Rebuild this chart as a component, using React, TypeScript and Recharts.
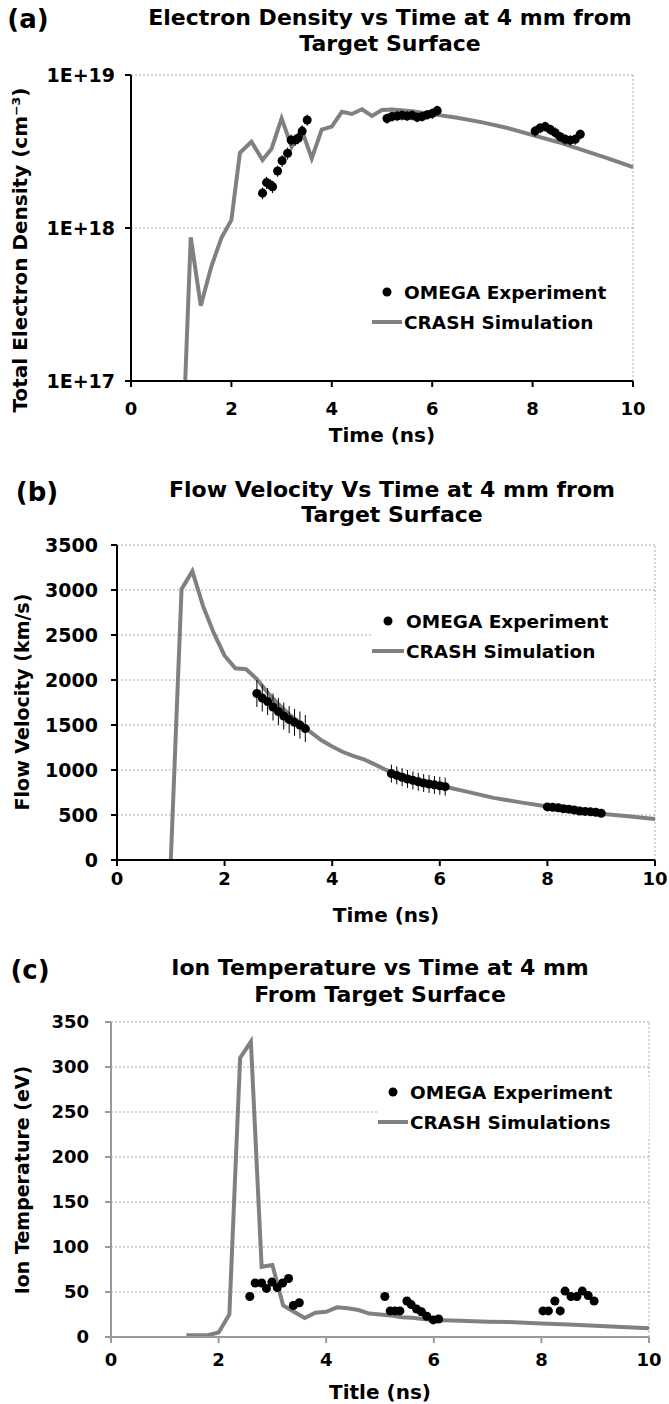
import {
  ComposedChart,
  Line,
  Scatter,
  XAxis,
  YAxis,
  CartesianGrid,
  ErrorBar,
  ReferenceLine,
  Legend,
} from "recharts";

const FONT = "'DejaVu Sans', Verdana, sans-serif";
const timeTicks = [0, 2, 4, 6, 8, 10];

// (a) electron density
const simATime = [1.08, 1.19, 1.39, 1.6, 1.8, 2.0, 2.17, 2.4, 2.62, 2.8, 3.0, 3.2, 3.4, 3.6, 3.8, 4.0, 4.2, 4.4, 4.6, 4.8, 5.0, 5.2, 5.6, 6.0, 6.5, 7.0, 7.5, 8.0, 8.5, 9.0, 9.5, 10];
const simADensity = [1e17, 8.7e17, 3.1e17, 5.6e17, 8.6e17, 1.13e18, 3.1e18, 3.66e18, 2.78e18, 3.3e18, 5.2e18, 3.4e18, 4.4e18, 2.85e18, 4.4e18, 4.6e18, 5.75e18, 5.56e18, 5.97e18, 5.4e18, 5.9e18, 5.95e18, 5.8e18, 5.55e18, 5.25e18, 4.9e18, 4.5e18, 4.05e18, 3.65e18, 3.23e18, 2.85e18, 2.5e18];
const expATime = [2.62, 2.7, 2.78, 2.82, 2.92, 3.01, 3.12, 3.19, 3.27, 3.33, 3.41, 3.51, 5.1, 5.2, 5.3, 5.4, 5.5, 5.6, 5.7, 5.8, 5.9, 6.0, 6.1, 8.05, 8.15, 8.25, 8.35, 8.45, 8.55, 8.65, 8.75, 8.85, 8.95];
const expADensity = [1.69e18, 1.98e18, 1.91e18, 1.86e18, 2.36e18, 2.75e18, 3.08e18, 3.76e18, 3.76e18, 3.86e18, 4.3e18, 5.08e18, 5.2e18, 5.35e18, 5.4e18, 5.45e18, 5.4e18, 5.45e18, 5.3e18, 5.35e18, 5.5e18, 5.6e18, 5.85e18, 4.3e18, 4.5e18, 4.6e18, 4.4e18, 4.2e18, 3.95e18, 3.8e18, 3.75e18, 3.8e18, 4.1e18];
const expADensityErr = [0.15e18, 0.18e18, 0.17e18, 0.17e18, 0.2e18, 0.25e18, 0.28e18, 0.32e18, 0.32e18, 0.33e18, 0.37e18, 0.43e18, 0.4e18, 0.4e18, 0.4e18, 0.4e18, 0.4e18, 0.4e18, 0.4e18, 0.4e18, 0.4e18, 0.45e18, 0.45e18, 0.35e18, 0.35e18, 0.35e18, 0.35e18, 0.35e18, 0.3e18, 0.3e18, 0.3e18, 0.3e18, 0.3e18];
const densityTicks = [1e17, 1e18, 1e19];

// (b) flow velocity
const simBTime = [1.0, 1.2, 1.4, 1.6, 1.8, 2.0, 2.2, 2.4, 2.6, 2.8, 3.0, 3.2, 3.4, 3.6, 3.8, 4.0, 4.2, 4.4, 4.6, 4.8, 5.0, 5.2, 5.4, 5.6, 5.8, 6.0, 6.2, 6.5, 7.0, 7.5, 8.0, 8.5, 9.0, 9.5, 10];
const simBVelocity = [0, 3010, 3210, 2820, 2520, 2270, 2130, 2120, 2010, 1860, 1730, 1620, 1520, 1420, 1330, 1260, 1200, 1155, 1115, 1060, 1000, 960, 925, 890, 855, 825, 800, 760, 690, 640, 595, 555, 515, 485, 455];
const expBTime = [2.6, 2.7, 2.8, 2.9, 3.0, 3.1, 3.2, 3.3, 3.4, 3.5, 5.1, 5.2, 5.3, 5.4, 5.5, 5.6, 5.7, 5.8, 5.9, 6.0, 6.1, 8.0, 8.1, 8.2, 8.3, 8.4, 8.5, 8.6, 8.7, 8.8, 8.9, 9.0];
const expBVelocity = [1850, 1800, 1760, 1700, 1650, 1600, 1560, 1530, 1500, 1460, 960, 940, 920, 900, 885, 870, 855, 845, 835, 825, 815, 590, 585, 580, 570, 565, 555, 545, 540, 535, 530, 520];
const expBVelocityErr = [150, 150, 150, 150, 150, 150, 150, 150, 150, 150, 100, 100, 100, 100, 100, 100, 100, 100, 100, 100, 100, 25, 25, 25, 25, 25, 25, 25, 25, 25, 25, 25];
const velocityTicks = [0, 500, 1000, 1500, 2000, 2500, 3000, 3500];

// (c) ion temperature
const simCTime = [1.4, 1.6, 1.8, 2.0, 2.2, 2.4, 2.6, 2.8, 3.0, 3.2, 3.4, 3.6, 3.8, 4.0, 4.2, 4.4, 4.6, 4.8, 5.0, 5.2, 5.4, 5.6, 5.8, 6.0, 6.5, 7.0, 7.5, 8.0, 8.5, 9.0, 9.5, 10];
const simCTemp = [2, 2, 2, 5, 25, 310, 328, 78, 80, 35, 28, 21, 27, 28, 33, 32, 30, 26, 25, 24, 22, 21.5, 20, 19, 18, 17, 16.5, 15, 14, 12.5, 11, 9.6];
const expCTime = [2.58, 2.68, 2.8, 2.89, 2.99, 3.09, 3.19, 3.3, 3.39, 3.5, 5.09, 5.19, 5.28, 5.37, 5.5, 5.58, 5.68, 5.77, 5.87, 5.99, 6.09, 8.03, 8.13, 8.25, 8.35, 8.44, 8.55, 8.66, 8.76, 8.87, 8.98];
const expCTemp = [45, 60, 60, 54, 61, 55, 60, 65, 35, 38, 45, 29, 29, 29, 40, 36, 31, 28, 23, 19, 20, 29, 29, 40, 29, 51, 45, 45, 51, 46, 40];
const tempTicks = [0, 50, 100, 150, 200, 250, 300, 350];

const pts = (t: number[], v: number[], e?: number[]) =>
  t.map((x, i) => (e ? { t: x, v: v[i], e: e[i] } : { t: x, v: v[i] }));

const makeLegend = (rowH: number, markW: number) => (props: any) => {
  const items = [...(props.payload || [])].sort((a: any) =>
    a.type === "circle" ? -1 : 1
  );
  return (
    <div style={{ background: "#fff", fontFamily: FONT, fontWeight: "bold", fontSize: 18.5, color: "#000" }}>
      {items.map((it: any) => (
        <div key={it.value} style={{ display: "flex", alignItems: "center", height: rowH }}>
          <svg width={markW} height={12} style={{ flex: "none" }}>
            {it.type === "circle" ? (
              <circle cx={markW / 2} cy={6} r={4.5} fill="#000" />
            ) : (
              <line x1={0} y1={6} x2={markW} y2={6} stroke="#808080" strokeWidth={4} />
            )}
          </svg>
          <span style={{ marginLeft: 2, whiteSpace: "nowrap" }}>{it.value}</span>
        </div>
      ))}
    </div>
  );
};

const tickStyle = (size: number) => ({ fill: "#000", fontSize: size, fontWeight: "bold", fontFamily: FONT });

const Panel = (p: any) => (
  <div style={{ position: "absolute", left: 0, top: p.top }}>
    <ComposedChart width={669} height={p.height} margin={p.margin}>
      <CartesianGrid vertical={false} stroke="#aaa" strokeDasharray="2 2" />
      <XAxis
        dataKey="t"
        type="number"
        domain={[0, 10]}
        ticks={timeTicks}
        interval={0}
        height={60}
        axisLine={{ stroke: p.axisColor, strokeWidth: 2 }}
        tickLine={{ stroke: p.axisColor, strokeWidth: 2 }}
        tick={tickStyle(18)}
        tickMargin={p.xTickMargin}
        label={{ value: p.xLabel, position: "insideBottom", offset: p.xLabelOffset, fill: "#000", fontSize: 20, fontWeight: "bold", fontFamily: FONT }}
      />
      <YAxis
        type="number"
        width={p.yWidth}
        scale={p.log ? "log" : "auto"}
        domain={p.domain}
        ticks={p.yTicks}
        interval={0}
        allowDataOverflow
        axisLine={{ stroke: p.axisColor, strokeWidth: 2 }}
        tickLine={{ stroke: p.axisColor, strokeWidth: 2 }}
        tick={tickStyle(p.yTickSize)}
        tickMargin={p.yTickMargin}
        tickFormatter={p.fmt}
      />
      <ReferenceLine x={10} stroke="#aaa" strokeDasharray="2 2" />
      <Legend
        layout="vertical"
        align="center"
        verticalAlign="middle"
        wrapperStyle={p.legendPos}
        content={makeLegend(30, p.markW)}
      />
      <Line
        data={p.sim}
        dataKey="v"
        name={p.simName}
        type="linear"
        stroke="#808080"
        strokeWidth={4}
        dot={false}
        legendType="line"
        isAnimationActive={false}
      />
      <Scatter data={p.exp} dataKey="v" name="OMEGA Experiment" fill="#000" legendType="circle" isAnimationActive={false}>
        {p.err && <ErrorBar dataKey="e" direction="y" width={0} stroke="#000" strokeWidth={1} />}
      </Scatter>
    </ComposedChart>
  </div>
);

const Text = ({ x, y, size, children, rotate }: any) => (
  <div
    style={{
      position: "absolute",
      left: x,
      top: y,
      transform: `translate(-50%, -50%)${rotate ? " rotate(-90deg)" : ""}`,
      whiteSpace: "nowrap",
      fontFamily: FONT,
      fontWeight: "bold",
      fontSize: size,
      lineHeight: 1,
      color: "#000",
    }}
  >
    {children}
  </div>
);

export default function App() {
  return (
    <div style={{ position: "absolute", left: 0, top: 0, width: 669, height: 1404, background: "#fff" }}>
      <Panel
        top={0}
        height={450}
        margin={{ top: 75, right: 36, bottom: 9, left: 0 }}
        yWidth={131}
        log
        domain={[1e17, 1e19]}
        yTicks={densityTicks}
        fmt={(v: number) => "1E+" + Math.round(Math.log10(v))}
        axisColor="#000"
        yTickSize={19}
        yTickMargin={10}
        xTickMargin={15}
        xLabelOffset={-1}
        xLabel="Time (ns)"
        sim={pts(simATime, simADensity)}
        exp={pts(expATime, expADensity, expADensityErr)}
        err
        simName="CRASH Simulation"
        legendPos={{ left: 372, top: 277, width: 250 }}
        markW={30}
      />
      <Text x={28} y={19} size={26}>(a)</Text>
      <Text x={390} y={18} size={22}>Electron Density vs Time at 4 mm from</Text>
      <Text x={390} y={44} size={22}>Target Surface</Text>
      <Text x={20} y={250} size={20} rotate>Total Electron Density (cm⁻³)</Text>

      <Panel
        top={470}
        height={470}
        margin={{ top: 75, right: 14, bottom: 20, left: 0 }}
        yWidth={117}
        domain={[0, 3500]}
        yTicks={velocityTicks}
        axisColor="#000"
        yTickSize={19}
        yTickMargin={13}
        xTickMargin={6}
        xLabelOffset={-2}
        xLabel="Time (ns)"
        sim={pts(simBTime, simBVelocity)}
        exp={pts(expBTime, expBVelocity, expBVelocityErr)}
        err
        simName="CRASH Simulation"
        legendPos={{ left: 372, top: 136, width: 283 }}
        markW={32}
      />
      <Text x={37} y={492} size={26}>(b)</Text>
      <Text x={392} y={490} size={22}>Flow Velocity Vs Time at 4 mm from</Text>
      <Text x={392} y={515} size={22}>Target Surface</Text>
      <Text x={22} y={702} size={19} rotate>Flow Velocity (km/s)</Text>

      <Panel
        top={950}
        height={454}
        margin={{ top: 72, right: 20, bottom: 7, left: 0 }}
        yWidth={111}
        domain={[0, 350]}
        yTicks={tempTicks}
        axisColor="#999"
        yTickSize={18}
        yTickMargin={16}
        xTickMargin={10}
        xLabelOffset={-2}
        xLabel="Title (ns)"
        sim={pts(simCTime, simCTemp)}
        exp={pts(expCTime, expCTemp)}
        simName="CRASH Simulations"
        legendPos={{ left: 378, top: 127, width: 271 }}
        markW={30}
      />
      <Text x={30} y={970} size={26}>(c)</Text>
      <Text x={380} y={968} size={22}>Ion Temperature vs Time at 4 mm</Text>
      <Text x={380} y={995} size={22}>From Target Surface</Text>
      <Text x={22} y={1180} size={19} rotate>Ion Temperature (eV)</Text>
    </div>
  );
}
